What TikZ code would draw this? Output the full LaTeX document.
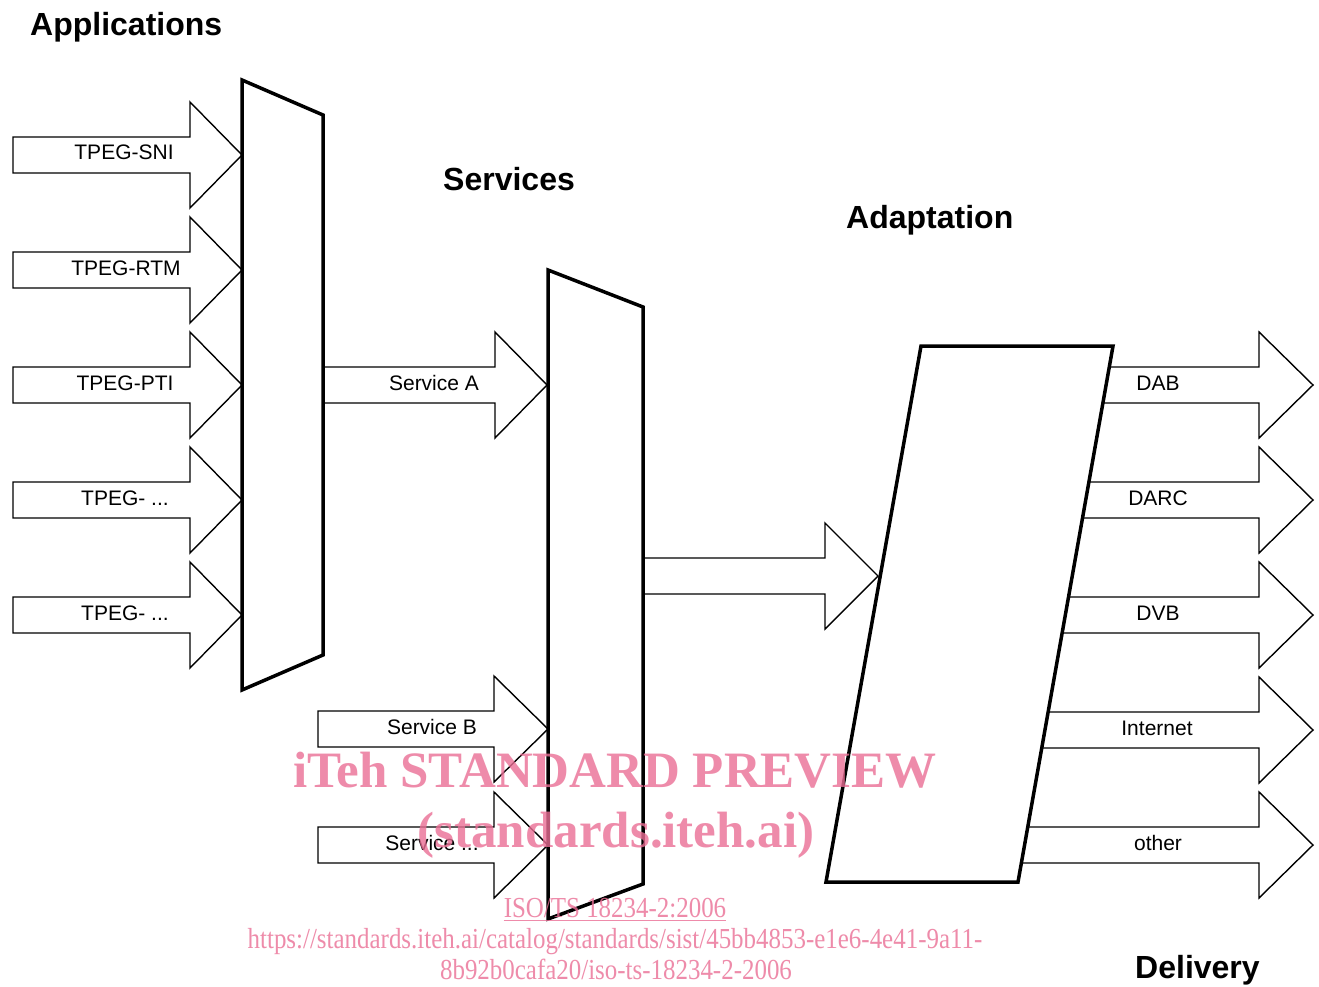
\documentclass[tikz,border=0pt]{standalone}
\usepackage{fontspec}
\setmainfont{Liberation Sans}
\newfontfamily\wmfont{Liberation Serif}
\newfontfamily\wmfontc[FakeStretch=0.86]{Liberation Serif}
\usetikzlibrary{calc}
\definecolor{wmpink}{RGB}{234,111,149}
\tikzset{
  mux/.style={draw=black, line width=3.5pt, line join=miter},
  barrow/.style={draw=black, line width=1.4pt, line join=miter},
  lbl/.style={font=\fontsize{21}{24}\selectfont, anchor=base, inner sep=0pt},
  ttl/.style={font=\fontsize{32}{36}\selectfont\bfseries, anchor=base west, inner sep=0pt},
  wm/.style={text=wmpink, text opacity=0.8, anchor=base, inner sep=0pt},
}
% closed block arrow: start x, head x, tip x, centre y
\newcommand\closedarr[4]{%
  \draw[barrow] (#1,#4-18) -- (#2,#4-18) -- (#2,#4-53) -- (#3,#4) -- (#2,#4+53) -- (#2,#4+18) -- (#1,#4+18) -- cycle;}
% open block arrow: start top point, start bottom point, head x, tip x, centre y
\newcommand\openarr[5]{%
  \draw[barrow] #1 -- (#3,#5-18) -- (#3,#5-53) -- (#4,#5) -- (#3,#5+53) -- (#3,#5+18) -- #2;}
\begin{document}
\begin{tikzpicture}[x=1pt,y=-1pt]
\useasboundingbox (0,0) rectangle (1319,987);
\fill[white] (0,0) rectangle (1319,987);

% corners
\coordinate (lTL) at (242,80);  \coordinate (lTR) at (323,115);
\coordinate (lBR) at (323,655); \coordinate (lBL) at (242,690);
\coordinate (mTL) at (548,270); \coordinate (mTR) at (643,307);
\coordinate (mBR) at (643,884); \coordinate (mBL) at (548,919);
\coordinate (aTL) at (921,346); \coordinate (aTR) at (1113,346);
\coordinate (aBR) at (1018,882); \coordinate (aBL) at (826,882);

% titles
\node[ttl] (tApp) at (30,36) {Applications};
\node[ttl] (tSrv) at (443,191) {Services};
\node[ttl] (tAda) at (846,228) {Adaptation};
\node[ttl] (tDel) at (1135,978) {Delivery};

% input arrows
\foreach \y in {155,270,385,500,615} {\closedarr{13}{190}{242}{\y}}
\node[lbl] (sni) at (124,160) {TPEG-SNI};
\node[lbl] (rtm) at (126,275) {TPEG-RTM};
\node[lbl] (pti) at (125,390) {TPEG-PTI};
\node[lbl] (tp4) at (125,505) {TPEG- ...};
\node[lbl] (tp5) at (125,620) {TPEG- ...};

% service arrows
\openarr{(lTR |- 0,367)}{(lTR |- 0,403)}{495}{547}{385}
\node[lbl] (sA) at (434,390) {Service A};
\closedarr{318}{494}{548}{729}
\closedarr{318}{494}{548}{845}
\node[lbl] (sB) at (432,734) {Service B};
\node[lbl] (sC) at (432,850) {Service ...};

% middle to adaptation
\openarr{(mTR |- 0,558)}{(mTR |- 0,594)}{825}{878}{576}

% output arrows
\foreach \y in {385,500,615,730,845} {
  \openarr{($(aTR)!{(\y-18-346)/536}!(aBR)$)}{($(aTR)!{(\y+18-346)/536}!(aBR)$)}{1259}{1313}{\y}
}
\node[lbl] (dab) at (1158,390) {DAB};
\node[lbl] (darc) at (1158,505) {DARC};
\node[lbl] (dvb) at (1158,620) {DVB};
\node[lbl] (inet) at (1157,735) {Internet};
\node[lbl] (oth) at (1158,850) {other};

% multiplexers / adaptation
\draw[mux] (lTL) -- (lTR) -- (lBR) -- (lBL) -- cycle;
\draw[mux] (mTL) -- (mTR) -- (mBR) -- (mBL) -- cycle;
\draw[mux] (aTL) -- (aTR) -- (aBR) -- (aBL) -- cycle;

% watermark
\node[wm, font=\wmfont\fontsize{51}{56}\selectfont\bfseries] (wm1) at (615,787) {iTeh STANDARD PREVIEW};
\node[wm, font=\wmfont\fontsize{51}{56}\selectfont\bfseries] (wm2) at (616,847) {(standards.iteh.ai)};
\node[wm, font=\wmfontc\fontsize{29}{32}\selectfont] (wm3) at (615,917) {ISO/TS 18234-2:2006};
\draw[wmpink, opacity=0.8, line width=1pt] (wm3.south west) ++(0,3) -- ($(wm3.south east)+(0,3)$);
\node[wm, font=\wmfontc\fontsize{29}{32}\selectfont] (wm4) at (615,948) {https://standards.iteh.ai/catalog/standards/sist/45bb4853-e1e6-4e41-9a11-};
\node[wm, font=\wmfontc\fontsize{29}{32}\selectfont] (wm5) at (616,979) {8b92b0cafa20/iso-ts-18234-2-2006};
\end{tikzpicture}
\end{document}
